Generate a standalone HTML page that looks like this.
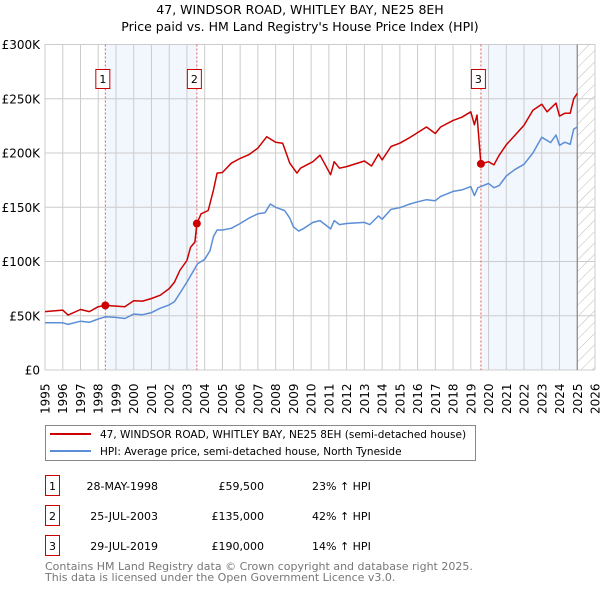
<!DOCTYPE html>
<html><head><meta charset="utf-8"><style>
body{margin:0;background:#fff;font-family:"DejaVu Sans","Liberation Sans",sans-serif;}
#wrap{position:relative;width:600px;height:590px;overflow:hidden;}
svg text{font-family:"DejaVu Sans","Liberation Sans",sans-serif;}
</style></head><body><div id="wrap">
<svg id="c" width="600" height="590"></svg>
</div>
<script>
const hpiYears=[1995,1996,1996.3,1997,1997.5,1998,1998.4,1999,1999.5,2000,2000.5,2001,2001.5,2002,2002.3,2002.6,2003,2003.6,2004,2004.3,2004.5,2004.7,2005,2005.5,2006,2006.5,2007,2007.4,2007.7,2008,2008.5,2008.8,2009,2009.3,2009.6,2010.1,2010.5,2011.1,2011.3,2011.6,2012,2013,2013.3,2013.8,2014,2014.5,2015,2015.5,2016,2016.5,2017,2017.3,2018,2018.5,2019,2019.2,2019.4,2019.57,2020,2020.3,2020.6,2021,2021.5,2022,2022.5,2023,2023.5,2023.8,2024,2024.3,2024.6,2024.8,2025.0];
const hpiValues=[43.6,43.5,42,45,44,47,49,48.5,47.5,51.5,51,52.9,57,60,63,70.6,81,98,102,110,123,129,129,130.6,135,140,144,145,153,150,147,140,132,128,130.6,136,137.7,130,137.7,134,135,136,134,142,139,148,149.6,152.6,155,157,156,160,164.6,166,169,160.7,168,169,172,168,170,178.8,185,189.6,200,214.5,209.6,216.6,207,210,208,222,224];
const saleYears=[1995,1996,1996.3,1997,1997.5,1998,1998.4,1999,1999.5,2000,2000.5,2001,2001.5,2002,2002.3,2002.6,2003,2003.2,2003.45,2003.56,2003.8,2004.2,2004.5,2004.7,2005,2005.5,2006,2006.5,2007,2007.5,2008,2008.4,2008.8,2009.2,2009.4,2010.1,2010.5,2011.1,2011.3,2011.6,2012,2013,2013.4,2013.8,2014,2014.5,2015,2015.5,2016,2016.5,2017,2017.3,2018,2018.5,2019,2019.2,2019.35,2019.57,2020,2020.3,2020.6,2021,2021.5,2022,2022.5,2023,2023.3,2023.8,2024,2024.3,2024.6,2024.8,2025.0];
const saleValues=[53.8,55.2,50.6,55.8,53.8,58.3,59.5,58.9,58.3,63.8,63.5,65.9,68.9,75,81,91.7,100.9,113,118,135,144,147,166,181.5,182,190.6,195,198.5,204.5,215,210,209,190.6,181.5,186,192,198,180,192,186,187.5,192.6,188,199,193.6,206,209,213.6,218.8,224,218,224,230,233,238,226,235,190,192,189,198,207.6,216.6,225.5,239.4,244.9,238,246,234,236.6,236.6,250,255];
const sales=[{n:"1",year:1998.40,value:59.5},{n:"2",year:2003.56,value:135},{n:"3",year:2019.57,value:190}];
const yTicks=[0,50,100,150,200,250,300];
const yTickLabels=["£0","£50K","£100K","£150K","£200K","£250K","£300K"];
const xTicks=[];for(let y=1995;y<=2026;y++)xTicks.push(y);

const L=45,R=595,T=44.5,B=370;
const X=y=>L+(y-1995)/(2026-1995)*(R-L);
const Y=v=>B-v/300*(B-T);
const NS="http://www.w3.org/2000/svg";
const svg=document.getElementById('c');
function mk(tag,attrs,parent){const e=document.createElementNS(NS,tag);for(const k in attrs)e.setAttribute(k,attrs[k]);(parent||svg).appendChild(e);return e;}

// title
let t=mk('text',{x:300,y:14,'text-anchor':'middle','font-size':12.5,fill:'#000'});t.textContent="47, WINDSOR ROAD, WHITLEY BAY, NE25 8EH";


t=mk('text',{x:300,y:31,'text-anchor':'middle','font-size':12.5,fill:'#000'});t.textContent="Price paid vs. HM Land Registry's House Price Index (HPI)";



// shaded ranges
let r=mk('rect',{x:X(sales[0].year),y:T,width:X(sales[1].year)-X(sales[0].year),height:B-T,fill:'#eef3fc',opacity:0.75});


r=mk('rect',{x:X(sales[2].year),y:T,width:X(2025.0)-X(sales[2].year),height:B-T,fill:'#eef3fc',opacity:0.75});



// hatch
const defs=mk('defs',{});
const pat=mk('pattern',{id:'h',width:8,height:8,patternUnits:'userSpaceOnUse',patternTransform:'rotate(45)'},defs);
mk('line',{x1:0,y1:0,x2:0,y2:8,stroke:'#bbb','stroke-width':1},pat);
r=mk('rect',{x:X(2025.0),y:T,width:R-X(2025.0),height:B-T,fill:'url(#h)'});



// grid
xTicks.forEach(y=>{const l=mk('line',{x1:X(y),x2:X(y),y1:T,y2:B,stroke:'#ccc','stroke-width':1});


const tx=mk('text',{transform:`translate(${X(y)+4.5},${B+44}) rotate(-90)`,'font-size':12,fill:'#000'});tx.textContent=y;

});
yTicks.forEach((v,i)=>{const l=mk('line',{x1:L,x2:R,y1:Y(v),y2:Y(v),stroke:'#ccc','stroke-width':1});


const tx=mk('text',{x:40,y:Y(v)+4.5,'text-anchor':'end','font-size':12,fill:'#000'});tx.textContent=yTickLabels[i];

});
let vl=mk('line',{x1:X(2025.0),x2:X(2025.0),y1:T,y2:B,stroke:'#888','stroke-width':1.2});



// sale lines
sales.forEach(s=>{const l=mk('line',{x1:X(s.year),x2:X(s.year),y1:T,y2:B,stroke:'#e06060','stroke-width':1,'stroke-dasharray':'2,2'});


const g=mk('g',{});


mk('rect',{x:X(s.year)-9.5,y:69.5,width:14,height:19,fill:'#fff',stroke:'#cc0000','stroke-width':1},g);
const tx=mk('text',{x:X(s.year)-2.5,y:83,'text-anchor':'middle','font-size':11,fill:'#000'},g);tx.textContent=s.n;});

function path(xs,vs,col,name){const d=xs.map((y,i)=>(i?'L':'M')+X(y).toFixed(1)+','+Y(vs[i]).toFixed(1)).join('');
const p=mk('path',{d:d,fill:'none',stroke:col,'stroke-width':1.5,'stroke-linejoin':'round'});

}
path(hpiYears,hpiValues,'#5b8ed6','hpi-line');
path(saleYears,saleValues,'#cc0000','property-price-line');
sales.forEach(s=>{const c=mk('circle',{cx:X(s.year),cy:Y(s.value),r:4,fill:'#cc0000'});

});

// legend
const lg=mk('g',{});


mk('rect',{x:45.5,y:425.5,width:430,height:35,fill:'#fff',stroke:'#888','stroke-width':1},lg);
mk('line',{x1:50,x2:91,y1:434,y2:434,stroke:'#cc0000','stroke-width':2},lg);
mk('line',{x1:50,x2:91,y1:451,y2:451,stroke:'#5b8ed6','stroke-width':2},lg);
let lt=mk('text',{x:100,y:438,'font-size':10.5,fill:'#000'},lg);lt.textContent="47, WINDSOR ROAD, WHITLEY BAY, NE25 8EH (semi-detached house)";


lt=mk('text',{x:100,y:455,'font-size':10.5,fill:'#000'},lg);lt.textContent="HPI: Average price, semi-detached house, North Tyneside";



// table
const rows=[["1","28-MAY-1998","£59,500","23% ↑ HPI"],["2","25-JUL-2003","£135,000","42% ↑ HPI"],["3","29-JUL-2019","£190,000","14% ↑ HPI"]];
rows.forEach((rw,i)=>{const y=486+i*30;const g=mk('g',{});


mk('rect',{x:45.5,y:y-10.5,width:14,height:20,fill:'#fff',stroke:'#cc0000','stroke-width':1},g);
let a=mk('text',{x:52.5,y:y+4,'text-anchor':'middle','font-size':11,fill:'#000'},g);a.textContent=rw[0];
a=mk('text',{x:158,y:y+4,'text-anchor':'end','font-size':11,fill:'#000'},g);a.textContent=rw[1];
a=mk('text',{x:264,y:y+4,'text-anchor':'end','font-size':11,fill:'#000'},g);a.textContent=rw[2];
a=mk('text',{x:312,y:y+4,'font-size':11,fill:'#000'},g);a.textContent=rw[3];});

let f=mk('text',{x:45,y:570,'font-size':11,fill:'#777'});f.textContent="Contains HM Land Registry data © Crown copyright and database right 2025.";


f=mk('text',{x:45,y:581,'font-size':11,fill:'#777'});f.textContent="This data is licensed under the Open Government Licence v3.0.";


</script></body></html>
